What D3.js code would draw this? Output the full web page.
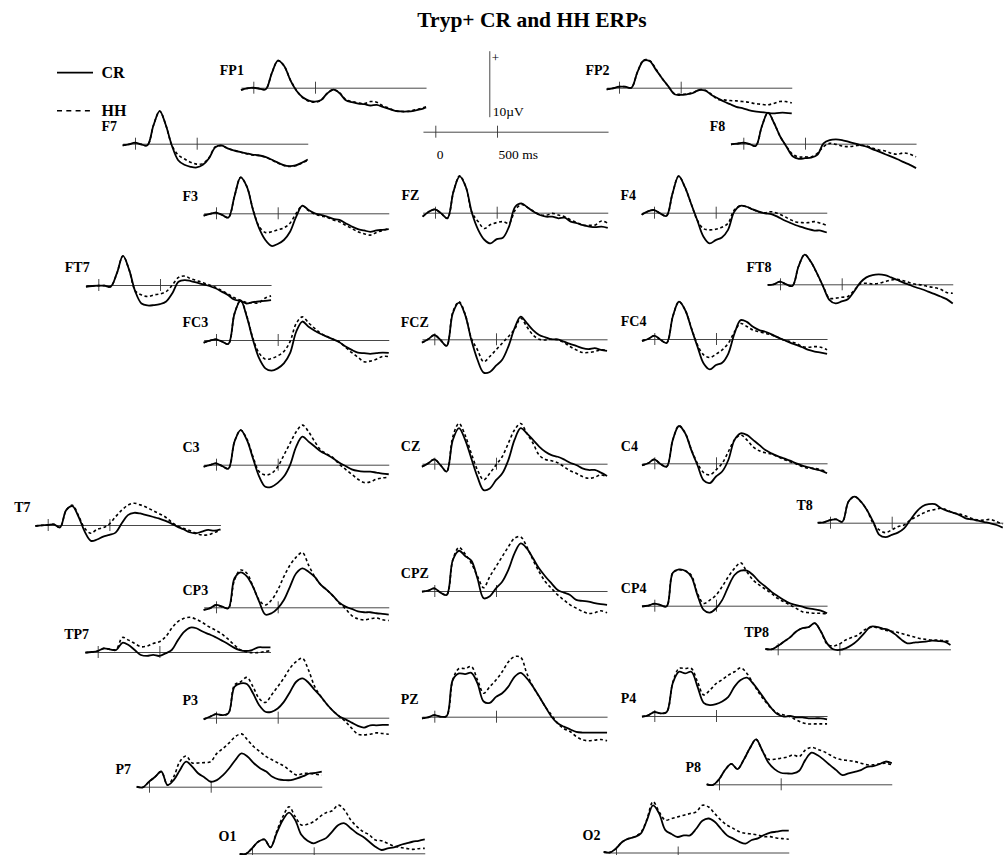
<!DOCTYPE html>
<html>
<head>
<meta charset="utf-8">
<script src="https://cdn.jsdelivr.net/npm/d3@7"></script>
<style>
  body { margin: 0; background: #fff; }
  svg { display: block; font-family: "Liberation Serif", "Times New Roman", serif; }
</style>
</head>
<body>
<div id="chart"></div>
<script>
// sample times in ms, shared by all traces
const times = [-100, -50, 0, 50, 100, 150, 200, 250, 300, 350, 400, 450, 500, 550, 600, 650, 700, 750, 800, 850, 900, 950, 1000, 1050, 1100, 1150, 1200, 1250, 1300, 1350, 1400];

// amplitudes in microvolts (positive up)
const FP1_CR = [-0.35, -0.1, 0, -0.15, -0.25, 2.2, 4.1, 3.3, 1.15, -0.45, -1.45, -1.95, -2.1, -1.85, -0.85, -0.3, -0.85, -1.9, -2.2, -2.4, -2.5, -2.7, -2.6, -2.9, -3.2, -3.5, -3.6, -3.6, -3.5, -3.3, -3.0];
const FP1_HH = [-0.35, -0.1, 0, -0.15, -0.25, 2.2, 4.1, 3.3, 1.2, -0.4, -1.5, -2.05, -2.2, -1.9, -0.85, -0.3, -0.8, -1.8, -2.1, -2.3, -2.4, -2.1, -2.2, -2.75, -3.1, -3.5, -3.6, -3.6, -3.4, -3.2, -2.9];
const FP2_CR = [-0.25, -0.1, 0.15, 0.15, 0, 2.4, 4.1, 4.0, 2.7, 1.4, 0.2, -1.0, -1.1, -1.0, -0.8, -0.35, -0.45, -1.1, -1.6, -2.1, -2.5, -2.9, -3.1, -3.4, -3.6, -3.7, -3.8, -3.9, -3.8, -3.8, -3.9];
const FP2_HH = [-0.25, -0.1, 0.15, 0.15, 0, 2.4, 4.2, 4.1, 2.8, 1.4, 0.2, -0.9, -1.0, -0.95, -0.75, -0.3, -0.4, -1.0, -1.75, -1.85, -1.95, -2.0, -2.1, -2.2, -2.4, -2.5, -2.6, -2.4, -2.1, -2.1, -2.3];
const F7_CR = [-0.25, -0.1, 0.15, -0.1, -0.25, 2.8, 4.95, 2.8, -0.35, -2.5, -3.2, -3.5, -3.6, -3.2, -2.2, -0.55, -0.25, -0.7, -1.0, -1.25, -1.45, -1.65, -1.75, -1.95, -2.35, -2.8, -3.2, -3.4, -3.3, -2.9, -2.4];
const F7_HH = [-0.25, -0.1, 0.15, -0.1, -0.25, 2.8, 4.95, 2.8, -0.3, -1.7, -2.3, -2.8, -3.1, -3.0, -2.1, -0.5, -0.3, -0.7, -1.0, -1.25, -1.5, -1.7, -1.8, -2.0, -2.4, -2.85, -3.25, -3.45, -3.35, -2.95, -2.5];
const F8_CR = [-0.1, 0, 0.15, -0.05, -0.35, 2.6, 4.7, 3.1, 1.05, -0.45, -1.9, -2.3, -2.2, -2.1, -1.7, 0.05, 0.55, 0.65, 0.55, 0.3, 0.05, -0.2, -0.45, -0.85, -1.2, -1.6, -1.95, -2.35, -2.8, -3.2, -3.7];
const F8_HH = [-0.1, 0, 0.15, -0.05, -0.35, 2.6, 4.7, 3.1, 1.05, -0.4, -1.6, -2.0, -2.0, -2.0, -1.45, -0.45, 0.05, -0.1, -0.35, -0.45, -0.35, -0.2, -0.35, -0.7, -0.95, -1.1, -1.45, -1.6, -1.4, -1.6, -2.0];
const F3_CR = [-0.35, -0.1, 0.1, -0.25, -0.65, 2.6, 5.45, 4.05, 0.5, -2.3, -4.05, -4.95, -4.65, -4.05, -2.8, -0.5, 1.15, 0.5, 0, -0.25, -0.5, -0.85, -1.0, -1.5, -2.0, -2.4, -2.6, -2.8, -2.6, -2.5, -2.4];
const F3_HH = [-0.35, -0.1, 0.1, -0.25, -0.65, 2.6, 5.45, 4.05, 0.6, -2.0, -2.9, -2.8, -2.5, -2.2, -1.5, 0, 1.1, 0.4, -0.1, -0.4, -0.6, -1.0, -1.3, -1.8, -2.3, -2.8, -3.1, -3.3, -2.9, -2.6, -2.3];
const FZ_CR = [-0.6, 0.15, 0.5, -0.1, -0.85, 3.2, 5.5, 3.9, -0.1, -2.6, -4.1, -4.65, -4.0, -3.8, -2.1, 0.9, 1.4, 0.8, 0.15, -0.35, -0.6, -0.6, -0.85, -0.75, -1.35, -1.6, -1.9, -2.1, -2.2, -2.1, -2.3];
const FZ_HH = [-0.6, 0.15, 0.5, -0.1, -0.85, 3.2, 5.6, 3.9, 0, -1.35, -2.4, -1.8, -1.5, -1.35, -1.6, 0.4, 1.25, 0.8, 0.2, -0.3, -0.4, -0.1, -0.35, -0.6, -1.1, -1.5, -1.9, -1.9, -1.85, -1.25, -1.6];
const F4_CR = [-0.3, 0.2, 0.4, -0.1, -0.5, 2.9, 5.55, 3.9, 1.4, -1.1, -3.6, -4.65, -4.15, -3.75, -2.6, 0.15, 1.05, 0.9, 0.5, 0.15, -0.1, -0.2, -0.6, -1.1, -1.5, -1.9, -2.2, -2.5, -2.7, -2.7, -3.0];
const F4_HH = [-0.3, 0.2, 0.4, -0.1, -0.5, 2.9, 5.55, 3.9, 1.4, -1.1, -2.4, -2.6, -2.5, -2.2, -1.6, 0.4, 1.05, 0.9, 0.5, 0.1, 0, 0.15, -0.1, -0.5, -1.0, -1.4, -1.5, -1.5, -1.35, -1.6, -1.9];
const FT7_CR = [-0.25, -0.15, -0.1, -0.1, -0.25, 1.75, 4.4, 2.3, -1.0, -2.8, -3.1, -3.05, -2.9, -2.5, -1.25, 0.5, 0.75, 0.6, 0.35, 0.1, -0.15, -0.5, -1.0, -1.5, -2.2, -2.4, -2.8, -2.6, -2.5, -2.4, -2.3];
const FT7_HH = [-0.25, -0.15, -0.1, -0.1, -0.25, 1.75, 4.4, 2.3, -0.9, -1.5, -1.75, -1.5, -1.35, -1.0, 0, 1.15, 1.35, 0.95, 0.65, 0.35, 0, -0.35, -0.85, -1.35, -1.9, -2.3, -2.65, -2.7, -2.7, -2.0, -1.65];
const FT8_CR = [-0.1, 0, 0.4, 0, -0.25, 2.7, 4.5, 3.4, 1.65, -0.35, -2.35, -2.9, -2.6, -2.25, -1.1, 0.25, 1.05, 1.4, 1.5, 1.4, 1.05, 0.65, 0.25, -0.1, -0.45, -0.75, -1.1, -1.45, -1.85, -2.25, -2.9];
const FT8_HH = [-0.1, 0, 0.4, 0, -0.25, 2.7, 4.5, 3.4, 1.6, -0.3, -2.1, -2.1, -1.95, -1.85, -0.95, 0.05, 0.15, 0.05, 0.15, 0.4, 0.65, 0.75, 0.55, 0.25, 0, -0.1, -0.35, -0.5, -0.75, -1.25, -1.35];
const FC3_CR = [-0.4, -0.1, 0.1, -0.25, -0.6, 4.0, 6.0, 3.5, 0, -2.8, -4.3, -4.65, -4.3, -3.55, -2.0, 1.25, 2.8, 2.0, 1.4, 0.9, 0.5, 0.1, -0.35, -1.0, -1.5, -1.9, -2.0, -2.1, -2.0, -1.9, -1.95];
const FC3_HH = [-0.4, -0.1, 0.1, -0.25, -0.6, 4.0, 6.0, 3.6, 0.2, -2.0, -2.9, -2.8, -2.4, -1.75, -0.25, 2.5, 3.5, 2.6, 1.75, 1.0, 0.5, 0.1, -0.3, -1.1, -1.9, -2.6, -3.3, -3.2, -2.9, -2.5, -2.5];
const FCZ_CR = [-0.5, 0, 0.65, -0.1, -1.0, 3.95, 5.55, 3.7, -0.1, -3.1, -5.05, -4.95, -4.0, -3.1, -1.1, 1.65, 3.45, 2.45, 1.4, 0.65, 0.3, 0, 0, -0.35, -0.7, -1.0, -1.35, -1.5, -1.35, -1.6, -1.75];
const FCZ_HH = [-0.5, 0, 0.65, -0.1, -1.0, 4.1, 5.7, 3.8, 0.15, -1.6, -3.4, -2.6, -1.6, -0.6, 0.4, 1.5, 3.2, 1.9, 0.65, 0, -0.1, 0, -0.1, -0.5, -1.1, -1.6, -2.0, -2.0, -1.85, -1.6, -1.7];
const FC4_CR = [-0.3, 0, 0.5, -0.1, -0.6, 3.4, 5.65, 4.4, 1.6, -1.15, -3.7, -4.6, -3.95, -3.6, -2.2, 0.85, 2.85, 2.6, 1.85, 1.35, 1.1, 0.7, 0.25, -0.15, -0.55, -0.9, -1.25, -1.65, -1.9, -2.05, -2.25];
const FC4_HH = [-0.3, 0, 0.5, -0.1, -0.6, 3.4, 5.65, 4.4, 1.7, -0.9, -2.4, -2.8, -2.3, -1.65, -0.65, 1.1, 2.35, 1.9, 1.35, 1.1, 0.85, 0.6, 0.25, -0.15, -0.4, -0.65, -1.15, -1.25, -1.15, -1.25, -1.65];
const T7_CR = [-0.15, -0.05, 0, 0.1, -0.35, 2.25, 2.85, 1.25, -1.0, -2.4, -2.2, -1.75, -1.5, -1.15, 0.25, 1.5, 1.85, 1.75, 1.5, 1.25, 1.0, 0.65, 0.25, -0.25, -0.65, -1.1, -1.25, -1.0, -0.75, -0.85, -0.65];
const T7_HH = [-0.15, -0.05, 0, 0.1, -0.35, 2.25, 3.0, 1.4, -0.5, -1.25, -0.65, -0.4, 0.15, 1.25, 2.25, 3.0, 3.3, 3.05, 2.7, 2.2, 1.75, 1.25, 0.5, -0.15, -0.5, -0.85, -1.25, -1.5, -1.5, -1.15, -0.75];
const C3_CR = [-0.3, -0.05, 0.2, -0.2, -0.6, 3.5, 5.25, 3.75, 0.95, -1.8, -3.35, -3.35, -2.75, -1.8, -0.05, 2.75, 4.25, 3.5, 2.75, 2.0, 1.5, 0.95, 0.3, -0.2, -0.7, -0.95, -1.05, -1.05, -1.2, -1.35, -1.45];
const C3_HH = [-0.3, -0.05, 0.2, -0.2, -0.6, 3.5, 5.25, 3.9, 1.2, -1.05, -1.55, -1.3, -0.3, 1.45, 3.25, 5.0, 6.0, 5.0, 3.5, 2.2, 1.6, 1.05, 0.05, -0.7, -1.45, -2.2, -2.7, -2.6, -2.2, -2.0, -1.9];
const CZ_CR = [-0.45, 0.05, 0.65, -0.2, -1.2, 3.6, 5.4, 3.6, 0.8, -2.0, -4.0, -3.75, -2.5, -1.5, 0.55, 3.6, 5.4, 4.6, 3.6, 2.6, 1.8, 1.3, 1.05, 0.65, 0.15, -0.2, -0.7, -0.95, -0.95, -1.35, -1.85];
const CZ_HH = [-0.45, 0.05, 0.65, -0.2, -1.2, 4.1, 6.1, 4.3, 1.55, -0.95, -2.45, -1.45, -0.2, 1.05, 3.1, 5.1, 6.1, 4.6, 3.1, 1.3, 0.65, 0.45, 0.15, -0.45, -1.05, -1.45, -1.95, -2.2, -2.05, -1.7, -1.95];
const C4_CR = [-0.3, 0, 0.6, -0.1, -0.5, 3.55, 5.65, 4.55, 2.0, -0.3, -2.6, -3.0, -2.0, -1.25, 0.5, 3.55, 4.55, 4.3, 3.55, 2.8, 2.0, 1.5, 1.1, 0.75, 0.4, 0, -0.35, -0.6, -0.9, -1.1, -1.5];
const C4_HH = [-0.3, 0, 0.6, -0.1, -0.5, 3.55, 5.7, 4.6, 2.1, 0, -1.4, -1.75, -1.0, 0, 1.75, 3.55, 4.3, 3.55, 2.5, 1.9, 1.6, 1.4, 1.0, 0.6, 0.25, -0.1, -0.5, -0.75, -0.75, -1.0, -1.25];
const T8_CR = [0, 0.05, 0.4, 0.5, 0.15, 3.2, 3.95, 3.2, 1.9, 0.15, -1.85, -2.2, -1.85, -1.5, -0.85, 0.4, 1.65, 2.5, 2.8, 2.8, 2.2, 1.8, 1.5, 1.15, 0.65, 0.5, 0.3, 0.1, -0.1, -0.35, -0.75];
const T8_HH = [0, 0.05, 0.4, 0.5, 0.15, 3.2, 3.95, 3.2, 1.9, -0.1, -1.1, -1.5, -1.1, -0.6, -0.35, 0.4, 0.9, 1.4, 1.8, 2.0, 2.2, 1.9, 1.5, 1.3, 1.0, 0.65, 0.4, 0.4, 0.5, 0.15, -0.2];
const CP3_CR = [-0.4, -0.15, 0.35, 0.1, -0.15, 4.4, 5.3, 4.7, 3.1, 0.85, -1.1, -0.9, -0.15, 1.1, 3.15, 5.15, 5.9, 5.4, 4.6, 3.4, 2.6, 1.7, 0.7, 0.1, -0.25, -0.6, -0.75, -0.75, -0.9, -1.0, -1.1];
const CP3_HH = [-0.4, -0.15, 0.35, 0.1, -0.15, 4.15, 5.65, 5.15, 3.15, 1.1, 0.35, 1.1, 2.6, 4.65, 6.4, 7.6, 8.3, 6.4, 4.65, 3.4, 2.6, 1.7, 0.6, -0.25, -1.25, -1.75, -1.9, -1.75, -1.6, -1.9, -2.0];
const CPZ_CR = [-0.1, 0.05, 0.4, -0.25, -0.6, 4.7, 6.1, 5.3, 4.6, 1.9, -1.1, -0.8, 0.4, 1.4, 3.2, 5.7, 7.2, 6.45, 4.95, 3.4, 2.2, 1.15, 0.15, -0.25, -0.6, -1.35, -1.5, -1.6, -1.85, -2.0, -2.1];
const CPZ_HH = [-0.1, 0.05, 0.4, -0.25, -0.6, 4.7, 6.6, 5.6, 4.2, 2.2, 0.5, 2.2, 3.7, 5.2, 6.7, 8.0, 8.2, 6.7, 4.7, 2.9, 1.4, 0.4, -0.6, -1.35, -2.1, -2.6, -3.1, -3.4, -3.3, -3.0, -3.3];
const CP4_CR = [-0.1, 0, 0.3, 0.1, -0.1, 5.0, 5.5, 5.3, 4.4, 1.6, -0.65, -1.05, -0.4, 0.85, 2.9, 4.65, 5.3, 5.3, 4.65, 3.65, 2.9, 2.1, 1.45, 0.85, 0.35, 0.1, -0.15, -0.4, -0.55, -0.75, -1.15];
const CP4_HH = [-0.1, 0, 0.3, 0.1, -0.1, 5.0, 5.4, 5.3, 4.6, 1.85, 0.35, 0.85, 1.6, 2.9, 4.4, 5.65, 6.5, 5.15, 3.9, 3.15, 2.5, 1.85, 1.1, 0.6, 0.1, -0.4, -0.9, -1.05, -1.15, -1.15, -1.25];
const TP7_CR = [-0.1, 0, 0.15, 0.55, 0.4, 0.3, 1.4, 1.05, 0.3, -0.45, -0.6, -0.45, -0.6, -0.2, 0.3, 1.8, 3.05, 3.7, 3.6, 3.1, 2.7, 2.3, 1.8, 1.3, 0.7, 0.3, 0.15, 0.3, 0.7, 0.7, 0.7];
const TP7_HH = [-0.1, 0, 0.15, 0.55, 0.4, 0.4, 2.2, 1.8, 1.3, 0.8, 0.9, 1.3, 1.55, 2.3, 3.6, 4.6, 5.1, 5.25, 4.95, 4.45, 3.85, 3.35, 2.8, 2.05, 1.2, 0.4, 0.05, -0.1, -0.1, 0.05, 0.2];
const TP8_CR = [0.05, 0, 0.5, 1.15, 1.8, 2.7, 3.2, 3.35, 3.95, 2.7, 0.9, 0, -0.1, 0.15, 0.65, 1.4, 2.4, 3.4, 3.4, 3.15, 2.9, 2.3, 1.5, 0.9, 1.0, 1.1, 1.15, 1.3, 1.25, 1.15, 0.65];
const TP8_HH = [0.05, 0, 0.5, 1.15, 1.8, 2.7, 3.2, 3.35, 3.95, 2.7, 0.8, 0.5, 0.8, 1.4, 1.8, 2.15, 2.9, 3.3, 3.3, 3.0, 2.8, 2.65, 2.4, 2.15, 1.9, 1.65, 1.5, 1.4, 1.4, 1.3, 1.15];
const P3_CR = [-0.25, 0.15, 0.55, 0.4, 0.65, 4.7, 5.2, 5.1, 3.7, 1.9, 0.9, 0.9, 1.4, 2.4, 3.9, 5.45, 5.95, 5.3, 4.2, 3.2, 2.0, 1.0, 0.2, -0.25, -0.75, -1.25, -1.5, -1.15, -1.15, -1.1, -1.1];
const P3_HH = [-0.25, 0.15, 0.55, 0.4, 0.65, 4.95, 5.45, 6.1, 4.7, 2.9, 2.3, 3.45, 4.7, 6.0, 7.5, 8.5, 9.0, 7.2, 4.7, 3.2, 2.0, 1.0, 0.2, -0.6, -1.6, -2.5, -2.6, -2.5, -2.3, -2.4, -2.5];
const PZ_CR = [-0.25, -0.1, 0.25, 0, 0.1, 5.6, 6.55, 6.45, 6.65, 5.05, 2.3, 2.1, 3.0, 3.55, 4.55, 6.05, 6.65, 5.8, 4.55, 3.05, 1.5, 0, -1.0, -1.5, -1.9, -2.3, -2.4, -2.4, -2.4, -2.4, -2.4];
const PZ_HH = [-0.25, -0.1, 0.25, 0, 0.1, 5.6, 7.3, 7.3, 7.6, 5.55, 3.55, 4.55, 5.55, 6.8, 8.3, 9.1, 9.0, 6.55, 4.55, 3.05, 1.5, 0.25, -1.0, -1.8, -2.25, -3.0, -3.5, -3.65, -3.55, -3.45, -3.65];
const P4_CR = [-0.1, 0.1, 0.6, 0.4, 0.6, 5.0, 6.7, 6.45, 6.7, 4.45, 2.0, 1.65, 1.8, 2.2, 2.9, 4.45, 5.45, 5.8, 4.95, 3.7, 2.4, 1.15, 0.25, -0.1, 0, -0.2, -0.2, -0.35, -0.35, -0.35, -0.5];
const P4_HH = [-0.1, 0.1, 0.6, 0.4, 0.6, 5.1, 7.2, 7.2, 7.2, 5.2, 3.2, 3.9, 4.9, 5.5, 6.2, 6.7, 7.3, 6.45, 4.95, 3.45, 2.2, 1.15, 0.4, 0.15, -0.1, -0.6, -1.0, -1.2, -1.2, -1.2, -1.2];
const P7_CR = [0, -0.1, 0.75, 1.5, 2.3, 0.25, 1.0, 2.5, 3.8, 3.05, 2.0, 1.4, 0.75, 1.0, 1.75, 2.8, 4.05, 5.05, 4.55, 3.55, 2.8, 2.3, 1.5, 1.1, 1.0, 1.0, 1.25, 1.6, 2.0, 2.1, 2.3];
const P7_HH = [0, -0.1, 0.75, 1.5, 2.3, 0.25, 1.5, 3.8, 4.65, 3.6, 3.6, 3.65, 3.8, 5.05, 5.8, 6.65, 7.6, 8.0, 7.05, 6.05, 5.3, 4.55, 4.05, 3.55, 3.05, 2.3, 1.75, 2.0, 2.0, 1.9, 1.75];
const P8_CR = [0, -0.1, 0.75, 2.2, 3.1, 2.3, 3.7, 5.45, 6.8, 5.15, 3.3, 2.3, 1.75, 1.65, 1.65, 2.05, 3.7, 4.8, 4.4, 3.7, 2.9, 2.15, 1.4, 1.65, 1.9, 2.15, 2.65, 2.75, 3.05, 3.45, 3.2];
const P8_HH = [0, -0.1, 0.75, 2.2, 3.1, 2.3, 3.7, 5.45, 6.8, 5.15, 3.8, 3.8, 3.95, 4.1, 4.45, 4.2, 5.2, 5.6, 5.3, 4.95, 4.45, 3.95, 3.7, 3.6, 3.45, 3.2, 2.95, 2.95, 3.1, 3.2, 2.95];
const O1_CR = [-0.1, -0.1, 0.75, 1.75, 2.1, 0.9, 3.05, 5.05, 6.15, 5.05, 2.8, 1.9, 1.5, 1.9, 2.3, 3.3, 4.3, 4.55, 3.8, 3.05, 2.5, 1.75, 1.0, 0.5, 0.75, 0.9, 1.25, 1.5, 1.75, 1.9, 2.1];
const O1_HH = [-0.1, -0.1, 0.75, 1.75, 2.1, 0.9, 3.3, 5.55, 7.05, 5.55, 4.3, 4.4, 4.8, 5.55, 6.15, 6.45, 7.3, 6.55, 5.05, 4.05, 3.3, 2.8, 2.0, 1.9, 1.5, 1.1, 0.9, 0.75, 0.6, 0.7, 0.75];
const O2_CR = [0.1, 0, 0.6, 1.6, 2.1, 2.35, 2.85, 4.85, 7.15, 5.9, 3.4, 2.8, 2.35, 2.6, 2.6, 3.6, 4.8, 5.15, 4.65, 3.6, 2.6, 2.1, 1.6, 1.35, 1.9, 2.15, 2.65, 3.0, 3.15, 3.3, 3.3];
const O2_HH = [0.1, 0, 0.6, 1.6, 2.1, 2.4, 3.0, 5.0, 7.7, 6.15, 4.9, 5.15, 5.4, 5.65, 5.9, 6.15, 7.15, 6.9, 5.9, 4.9, 4.15, 3.65, 3.15, 2.9, 2.8, 2.65, 2.4, 2.4, 2.2, 2.1, 2.0];

const sites = ["FP1", "FP2", "F7", "F8", "F3", "FZ", "F4", "FT7", "FT8", "FC3", "FCZ", "FC4", "T7", "C3", "CZ", "C4", "T8",
               "CP3", "CPZ", "CP4", "TP7", "TP8", "P3", "PZ", "P4", "P7", "P8", "O1", "O2"];
const crSeries = [FP1_CR, FP2_CR, F7_CR, F8_CR, F3_CR, FZ_CR, F4_CR, FT7_CR, FT8_CR, FC3_CR, FCZ_CR, FC4_CR, T7_CR, C3_CR, CZ_CR, C4_CR, T8_CR,
                  CP3_CR, CPZ_CR, CP4_CR, TP7_CR, TP8_CR, P3_CR, PZ_CR, P4_CR, P7_CR, P8_CR, O1_CR, O2_CR];
const hhSeries = [FP1_HH, FP2_HH, F7_HH, F8_HH, F3_HH, FZ_HH, F4_HH, FT7_HH, FT8_HH, FC3_HH, FCZ_HH, FC4_HH, T7_HH, C3_HH, CZ_HH, C4_HH, T8_HH,
                  CP3_HH, CPZ_HH, CP4_HH, TP7_HH, TP8_HH, P3_HH, PZ_HH, P4_HH, P7_HH, P8_HH, O1_HH, O2_HH];

// page layout: pixel of stimulus onset and of the baseline for each site
const panelPos = [
  [253.3, 87.7], [619, 87.7], [135, 143.7], [743.3, 143.7], [216, 213.3], [435, 212.7], [654, 212.7],
  [98.3, 285], [780, 284.3], [216, 340], [434.3, 339.3], [654.3, 339], [47.7, 525], [216, 464.7],
  [434.3, 463.7], [654.3, 463.3], [830, 522.7], [216, 607.3], [434.3, 591], [654.3, 605.7],
  [97.7, 652], [777.7, 649.3], [216, 717.7], [434.3, 716.7], [654.3, 716], [149, 786.7], [719, 784.3],
  [252, 853.3], [616, 852.5]
];

const serif = "'Liberation Serif', 'Times New Roman', serif";
const W = 1005, H = 855;
const svg = d3.select("#chart").append("svg").attr("width", W).attr("height", H);

// one shared scale per axis: 500 ms = 61.7 px, 10 uV = 66 px
const x = d3.scaleLinear().domain([-100, 1400]).range([-12.34, 172.76]);
const y = d3.scaleLinear().domain([-10, 10]).range([66, -66]);

const line = d3.line()
  .x((d, i) => x(times[i]))
  .y(d => y(d))
  .curve(d3.curveCatmullRom.alpha(0.5));

// title
svg.append("text")
  .attr("x", 532).attr("y", 27)
  .attr("text-anchor", "middle")
  .attr("font-size", "21.5px").attr("font-weight", "bold")
  .text("Tryp+ CR and HH ERPs");

// legend
const legend = svg.append("g");
legend.append("line").attr("x1", 57).attr("x2", 93).attr("y1", 72.7).attr("y2", 72.7)
  .attr("stroke", "#000").attr("stroke-width", 1.8);
legend.append("text").attr("x", 101.5).attr("y", 78).attr("font-size", "16px").attr("font-weight", "bold").text("CR");
legend.append("line").attr("x1", 57).attr("x2", 93).attr("y1", 110.7).attr("y2", 110.7)
  .attr("stroke", "#000").attr("stroke-width", 1.6).attr("stroke-dasharray", "5,4.3");
legend.append("text").attr("x", 101.5).attr("y", 116).attr("font-size", "16px").attr("font-weight", "bold").text("HH");

function baseAxis(g) {
  g.call(d3.axisBottom(x).tickValues([0, 500]).tickSizeOuter(0).tickFormat(""));
  g.select(".domain").attr("stroke", "#333").attr("stroke-width", 0.9);
  g.selectAll(".tick line").attr("y1", -6).attr("y2", 6).attr("stroke", "#333").attr("stroke-width", 0.9);
}

// calibration: time axis and 10 uV bar
const cal = svg.append("g").attr("transform", "translate(435.3,131.7)");
cal.call(g => {
  g.call(d3.axisBottom(x).tickValues([0, 500]).tickSizeOuter(0)
    .tickFormat(d => d === 0 ? "0" : "500 ms"));
  g.select(".domain").attr("stroke", "#333").attr("stroke-width", 0.9);
  g.selectAll(".tick line").attr("y1", -6).attr("y2", 6).attr("stroke", "#333").attr("stroke-width", 0.9);
  g.selectAll(".tick text").attr("y", 27).attr("dy", 0).attr("x", 1)
    .attr("text-anchor", "start").attr("font-size", "13.5px")
    .attr("font-family", serif).attr("fill", "#000");
});

const amp = d3.scaleLinear().domain([0, 10]).range([0, -66]);
const volt = svg.append("g").attr("transform", "translate(489.3,116.7)");
volt.call(d3.axisLeft(amp).tickValues([]).tickSizeOuter(0));
volt.select(".domain").attr("stroke", "#333").attr("stroke-width", 0.9);
volt.append("text").attr("x", 2.5).attr("y", amp(10) + 11).attr("text-anchor", "start")
  .attr("font-size", "13px").attr("font-family", serif).attr("fill", "#000").text("+");
volt.append("text").attr("x", 3.5).attr("y", -1).attr("text-anchor", "start")
  .attr("font-size", "13.5px").attr("font-family", serif).attr("fill", "#000").text("10\u00B5V");

// panels
sites.forEach((name, k) => {
  const [px, py] = panelPos[k];
  const g = svg.append("g").attr("transform", `translate(${px},${py})`);
  g.append("g").call(baseAxis);

  g.append("path").datum(hhSeries[k])
    .attr("d", line)
    .attr("fill", "none").attr("stroke", "#000")
    .attr("stroke-width", 1.6).attr("stroke-dasharray", "3,2.6");

  g.append("path").datum(crSeries[k])
    .attr("d", line)
    .attr("fill", "none").attr("stroke", "#000")
    .attr("stroke-width", 1.8);

  g.append("text")
    .attr("x", -33.5).attr("y", -12.8)
    .attr("font-size", "14px").attr("font-weight", "bold")
    .text(name);
});
</script>
</body>
</html>
